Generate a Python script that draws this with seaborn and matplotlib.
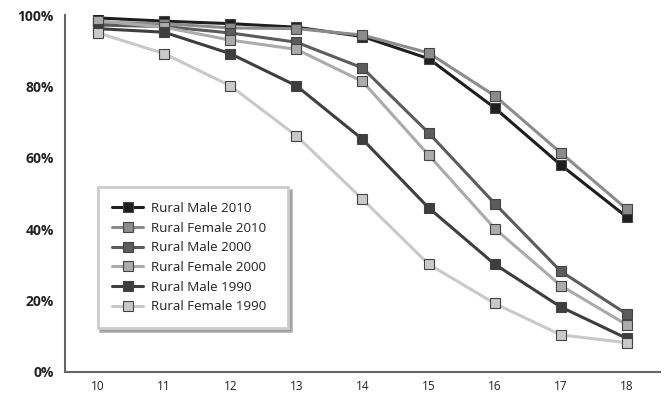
import numpy as np
import pandas as pd
import matplotlib
matplotlib.use("Agg")
import matplotlib.pyplot as plt
import seaborn as sns

# ages on the x axis
ages = [10, 11, 12, 13, 14, 15, 16, 17, 18]

# share of children still in school, percent
rural_male_2010 = [99.2, 98.3, 97.6, 96.6, 94.0, 87.8, 74.0, 58.0, 43.4]
rural_female_2010 = [98.0, 97.6, 96.4, 96.2, 94.4, 89.4, 77.4, 61.4, 45.6]
rural_male_2000 = [97.2, 96.8, 95.0, 92.4, 85.2, 67.0, 47.2, 28.2, 16.2]
rural_female_2000 = [98.4, 96.6, 93.0, 90.4, 81.4, 60.8, 40.2, 24.2, 13.2]
rural_male_1990 = [96.2, 95.2, 89.2, 80.2, 65.2, 46.0, 30.2, 18.2, 9.4]
rural_female_1990 = [95.0, 89.2, 80.2, 66.2, 48.4, 30.2, 19.2, 10.4, 8.2]

series_names = ["Rural Male 2010", "Rural Female 2010", "Rural Male 2000",
                "Rural Female 2000", "Rural Male 1990", "Rural Female 1990"]
series_values = [rural_male_2010, rural_female_2010, rural_male_2000,
                 rural_female_2000, rural_male_1990, rural_female_1990]
colors = ["#1e1e1e", "#8c8c8c", "#5c5c5c", "#ababab", "#3e3e3e", "#c9c9c9"]
y_ticks = [0, 20, 40, 60, 80, 100]

df = pd.DataFrame({
    "age": ages * len(series_names),
    "value": [v for vals in series_values for v in vals],
    "series": [n for n in series_names for _ in ages],
})

sns.set_style("white")
plt.rcParams["font.family"] = ["Open Sans", "DejaVu Sans"]

fig = plt.figure(figsize=(6.68, 3.97), dpi=100)
ax = fig.add_axes([0.0973, 0.063, 0.8907, 0.899])

sns.lineplot(data=df, x="age", y="value", hue="series", hue_order=series_names,
             palette=dict(zip(series_names, colors)), style="series",
             markers={n: "s" for n in series_names}, dashes=False,
             markersize=7.5, linewidth=2.2, markeredgecolor="#444444",
             markeredgewidth=0.8, ax=ax, zorder=3)

ax.set_xlim(9.5, 18.5)
ax.set_ylim(0, 100)
ax.set_xlabel("")
ax.set_ylabel("")

ax.set_xticks(ages)
ax.set_xticklabels([str(a) for a in ages], fontsize=8.5, color="#222222")
ax.set_xticks([a + 0.5 for a in [9] + ages], minor=True)
ax.tick_params(axis="x", which="major", length=0, pad=6)
ax.tick_params(axis="x", which="minor", direction="in", length=7, width=1.2, color="#555555")

ax.set_yticks(y_ticks)
ax.set_yticklabels([f"{t}%" for t in y_ticks], fontsize=10, fontweight="bold", color="#222222")
ax.tick_params(axis="y", direction="in", length=11, width=1.2, color="#777777", pad=8)

for side in ["top", "right"]:
    ax.spines[side].set_visible(False)
for side in ["left", "bottom"]:
    ax.spines[side].set_color("#666666")
    ax.spines[side].set_linewidth(1.5)

leg = ax.legend(loc="lower left", bbox_to_anchor=(0.055, 0.123, 0.32, 0.45),
                mode="expand", frameon=True, shadow={"color": "#888888", "alpha": 0.6},
                fancybox=False, framealpha=1, edgecolor="#cccccc",
                fontsize=9.6, handlelength=2.3, handletextpad=0.6,
                borderpad=1.1, labelspacing=0.5, borderaxespad=0)
leg.get_frame().set_linewidth(2)
for t in leg.get_texts():
    t.set_color("#222222")
    t.set_fontweight("medium")

fig.savefig("out.png", dpi=100)
